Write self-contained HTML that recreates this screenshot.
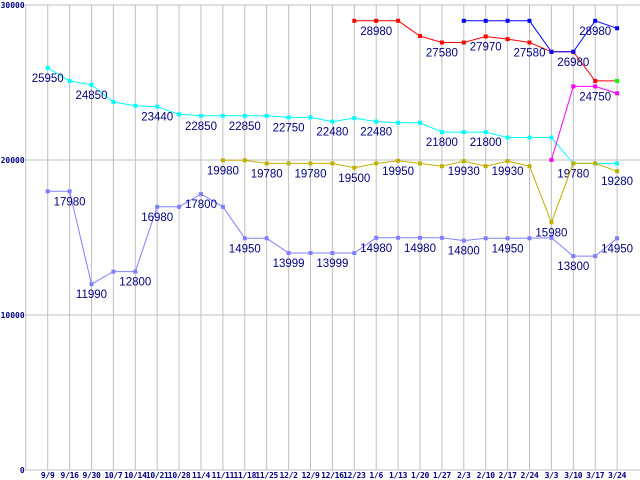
<!DOCTYPE html>
<html><head><meta charset="utf-8"><style>
html,body{margin:0;padding:0;background:#fff;}
svg{display:block;}
</style></head><body>
<svg id="chart" width="640" height="480" xmlns="http://www.w3.org/2000/svg"></svg>
<script>
const categories=["9/9","9/16","9/30","10/7","10/14","10/21","10/28","11/4","11/11","11/18","11/25","12/2","12/9","12/16","12/23","1/6","1/13","1/20","1/27","2/3","2/10","2/17","2/24","3/3","3/10","3/17","3/24"];
const yTicks=[0,10000,20000,30000];
const purpleValues=[17980,17980,11990,12800,12800,16980,16980,17800,16980,14950,14950,13999,13999,13999,13999,14980,14980,14980,14980,14800,14950,14950,14950,14980,13800,13800,14950];
const cyanValues=[25950,25100,24850,23750,23500,23440,22950,22850,22850,22850,22850,22750,22750,22480,22700,22480,22400,22400,21800,21800,21800,21450,21450,21450,19780,19780,19780];
const oliveValues=[null,null,null,null,null,null,null,null,19980,19980,19780,19780,19780,19780,19500,19780,19950,19780,19600,19930,19600,19930,19600,15980,19780,19780,19280];
const redValues=[null,null,null,null,null,null,null,null,null,null,null,null,null,null,28980,28980,28980,28000,27580,27580,27970,27800,27580,26980,26980,25100,25100];
const blueValues=[null,null,null,null,null,null,null,null,null,null,null,null,null,null,null,null,null,null,null,28980,28980,28980,28980,26980,26980,28980,28500];
const magentaValues=[null,null,null,null,null,null,null,null,null,null,null,null,null,null,null,null,null,null,null,null,null,null,null,20000,24750,24750,24300];
const purpleLabels=[1,2,4,5,7,9,11,13,15,17,19,21,24,26];
const cyanLabels=[0,2,5,7,9,11,13,15,18,20,24];
const oliveLabels=[8,10,12,14,16,19,21,23,26];
const redLabels=[15,18,20,22,24];
const blueLabels=[25];
const magentaLabels=[25];

const svg=document.getElementById('chart');
const NS='http://www.w3.org/2000/svg';
const x0=47.7, dx=21.9, axisX=25.7;
function xs(i){return x0+i*dx;}
function ys(v){return 470-v*0.0155;}
function mk(t,a){const e=document.createElementNS(NS,t);for(const k in a)e.setAttribute(k,a[k]);svg.appendChild(e);return e;}

categories.forEach((c,i)=>{
  const l=mk('line',{x1:xs(i),x2:xs(i),y1:ys(30000),y2:470,stroke:'#c0c0c0','stroke-width':1});
  
  
  const t=mk('text',{x:xs(i),y:478,'text-anchor':'middle','font-family':'"DejaVu Sans Mono","Liberation Mono",monospace','font-size':8,'font-weight':'bold','letter-spacing':'-0.3',fill:'#000080'});
  t.textContent=c;
  
  
});
yTicks.forEach(v=>{
  const l=mk('line',{x1:axisX,x2:640,y1:ys(v),y2:ys(v),stroke:'#c0c0c0','stroke-width':1});
  
  
  const t=mk('text',{x:axisX-1,y:ys(v)+3,'text-anchor':'end','font-family':'"DejaVu Sans Mono","Liberation Mono",monospace','font-size':8,'font-weight':'bold',fill:'#000080'});
  t.textContent=String(v);
  
  
});
const ax=mk('line',{x1:axisX,x2:axisX,y1:ys(30000),y2:470,stroke:'#c0c0c0','stroke-width':1});



function series(vals,color,name,labels,mcolor){
  let pts=[];
  vals.forEach((v,i)=>{if(v!==null)pts.push(xs(i).toFixed(1)+','+ys(v).toFixed(1));});
  const p=mk('polyline',{points:pts.join(' '),fill:'none',stroke:color,'stroke-width':1});
  
  
  vals.forEach((v,i)=>{
    if(v===null)return;
    const col=(mcolor&&i===vals.length-1)?mcolor:color;
    const r=mk('rect',{x:xs(i)-2,y:ys(v)-2,width:4,height:4,fill:col});
    
    
  });
  labels.forEach(i=>{
    const t=mk('text',{x:xs(i),y:ys(vals[i])+14,'text-anchor':'middle','font-family':'"Liberation Sans",sans-serif','font-size':11.5,fill:'#000080'});
    t.textContent=String(vals[i]);
    
    
  });
}
series(purpleValues,'#8080ff','purple-series',purpleLabels);
series(cyanValues,'#00ffff','cyan-series',cyanLabels);
series(oliveValues,'#c0b000','olive-series',oliveLabels);
series(redValues,'#ff0000','red-series',redLabels,'#00ff00');
series(blueValues,'#0000ff','blue-series',blueLabels);
series(magentaValues,'#ff00ff','magenta-series',magentaLabels);
</script>
</body></html>
